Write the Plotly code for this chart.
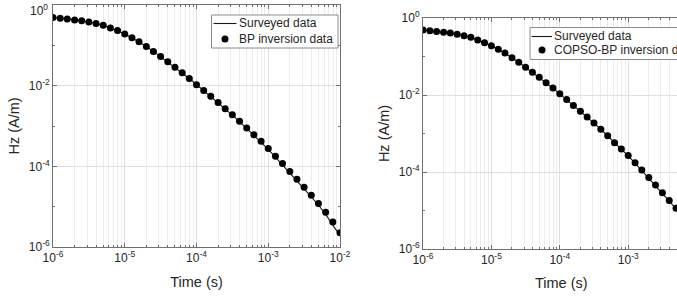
import plotly.graph_objects as go

# ---- data ----
time_s = [1.00e-6, 1.26e-6, 1.58e-6, 2.00e-6, 2.51e-6, 3.16e-6, 3.98e-6, 5.01e-6, 6.31e-6, 7.94e-6,
          1.00e-5, 1.26e-5, 1.58e-5, 2.00e-5, 2.51e-5, 3.16e-5, 3.98e-5, 5.01e-5, 6.31e-5, 7.94e-5,
          1.00e-4, 1.26e-4, 1.58e-4, 2.00e-4, 2.51e-4, 3.16e-4, 3.98e-4, 5.01e-4, 6.31e-4, 7.94e-4,
          1.00e-3, 1.26e-3, 1.58e-3, 2.00e-3, 2.51e-3, 3.16e-3, 3.98e-3, 5.01e-3, 6.31e-3, 7.94e-3,
          1.00e-2]

surveyed_hz = [0.490, 0.468, 0.447, 0.427, 0.407, 0.380, 0.347, 0.316, 0.269, 0.229,
               0.191, 0.155, 0.123, 0.0933, 0.0708, 0.0525, 0.0389, 0.0288, 0.0209, 0.0151,
               0.0107, 0.00759, 0.00537, 0.00380, 0.00269, 0.00186, 0.00129, 0.000871, 0.000575, 0.000398,
               0.000263, 0.000170, 0.000110, 6.92e-5, 4.47e-5, 2.75e-5, 1.74e-5, 1.10e-5, 6.46e-6, 3.63e-6,
               1.91e-6]

bp_hz = [0.490, 0.468, 0.447, 0.427, 0.407, 0.380, 0.347, 0.316, 0.269, 0.234,
         0.191, 0.155, 0.123, 0.0933, 0.0708, 0.0525, 0.0389, 0.0288, 0.0209, 0.0151,
         0.0106, 0.00759, 0.00550, 0.00380, 0.00269, 0.00191, 0.00132, 0.000891, 0.000603, 0.000417,
         0.000275, 0.000178, 0.000117, 7.41e-5, 4.79e-5, 3.02e-5, 1.91e-5, 1.20e-5, 7.24e-6, 4.17e-6,
         2.24e-6]

copso_hz = [0.490, 0.468, 0.447, 0.427, 0.407, 0.380, 0.347, 0.316, 0.269, 0.229,
            0.191, 0.155, 0.123, 0.0933, 0.0708, 0.0525, 0.0389, 0.0288, 0.0209, 0.0151,
            0.0107, 0.00759, 0.00537, 0.00380, 0.00269, 0.00186, 0.00129, 0.000871, 0.000575, 0.000398,
            0.000269, 0.000174, 0.000112, 7.24e-5, 4.57e-5, 2.88e-5, 1.82e-5, 1.15e-5, 6.76e-6, 3.80e-6,
            2.00e-6]

series_names = ["Surveyed data", "BP inversion data", "COPSO-BP inversion data"]
x_title = "Time (s)"
y_title = "Hz (A/m)"

x_tickvals = [1e-6, 1e-5, 1e-4, 1e-3, 1e-2]
x_ticktext = ["10<sup>-6</sup>", "10<sup>-5</sup>", "10<sup>-4</sup>", "10<sup>-3</sup>", "10<sup>-2</sup>"]
y_tickvals = [1e0, 1e-2, 1e-4, 1e-6]
y_ticktext = ["10<sup>0</sup>", "10<sup>-2</sup>", "10<sup>-4</sup>", "10<sup>-6</sup>"]
y_minor_vals = [1e-1, 1e-3, 1e-5]

W, H = 677, 304
FONT = "Liberation Sans, Arial, sans-serif"
TXT = "#262626"
AXC = "#707070"
LINEC = "#1a1a1a"
TICK_FS = 12
TITLE_FS = 14.5
LEG_FS = 12

def px(x):
    return x / W

def py(y):
    return 1 - y / H

fig = go.Figure()

fig.add_trace(go.Scatter(x=time_s, y=surveyed_hz, mode="lines", name=series_names[0],
                         line=dict(color=LINEC, width=1.1), xaxis="x", yaxis="y"))
fig.add_trace(go.Scatter(x=time_s, y=bp_hz, mode="markers", name=series_names[1],
                         marker=dict(color="black", size=7), xaxis="x", yaxis="y"))
fig.add_trace(go.Scatter(x=time_s, y=surveyed_hz, mode="lines", name=series_names[0],
                         line=dict(color=LINEC, width=1.1), xaxis="x2", yaxis="y2"))
fig.add_trace(go.Scatter(x=time_s, y=copso_hz, mode="markers", name=series_names[2],
                         marker=dict(color="black", size=7), xaxis="x2", yaxis="y2"))

def xaxis(domain, rng, anchor, title):
    return dict(type="log", domain=domain, range=rng, anchor=anchor,
                tickvals=x_tickvals, ticktext=x_ticktext,
                ticks="inside", ticklen=4, tickcolor=AXC,
                showline=True, linecolor=AXC, linewidth=1, mirror="ticks",
                showgrid=True, gridcolor="#dfdfdf", gridwidth=1,
                minor=dict(dtick="D1", ticks="inside", ticklen=2, tickcolor=AXC,
                           showgrid=True, gridcolor="#ececec", gridwidth=1),
                tickfont=dict(family=FONT, size=TICK_FS, color=TXT),
                ticklabeloverflow="allow",
                title=dict(text=title, font=dict(family=FONT, size=TITLE_FS, color=TXT), standoff=12),
                automargin=False, zeroline=False)

def yaxis(domain, mirror, anchor, ticktext):
    return dict(type="log", domain=domain, range=[-6, 0], anchor=anchor,
                tickvals=y_tickvals, ticktext=ticktext,
                ticks="inside", ticklen=4, tickcolor=AXC,
                showline=True, linecolor=AXC, linewidth=1, mirror=mirror,
                showgrid=True, gridcolor="#dfdfdf", gridwidth=1,
                minor=dict(tickvals=y_minor_vals, ticks="inside", ticklen=2, tickcolor=AXC,
                           showgrid=False),
                tickfont=dict(family=FONT, size=TICK_FS, color=TXT),
                ticklabeloverflow="allow",
                title=dict(text=y_title, font=dict(family=FONT, size=TITLE_FS, color=TXT), standoff=5),
                automargin=False, zeroline=False)

# left panel: the top label sits at the image edge, so it is nudged down (as in the original)
left_y_ticktext = [""] + y_ticktext[1:]

fig.update_layout(
    width=W, height=H, autosize=False,
    margin=dict(l=0, r=0, t=0, b=0, pad=0, autoexpand=False),
    paper_bgcolor="white", plot_bgcolor="white",
    showlegend=False,
    xaxis=xaxis([px(53), px(340)], [-6, -2], "y", x_title),
    yaxis=yaxis([py(247), py(5)], "ticks", "x", left_y_ticktext),
    xaxis2=xaxis([px(423), 1.0], [-6, -6 + (677 - 423) / 68.4], "y2", ""),
    yaxis2=yaxis([py(249), py(18)], False, "x2", y_ticktext),
)

fig.add_annotation(xref="paper", yref="paper", x=px(49), y=py(1), text=y_ticktext[0],
                   showarrow=False, xanchor="right", yanchor="top", borderpad=0,
                   font=dict(family=FONT, size=TICK_FS, color=TXT))

# right panel x title: the original axes extend past the cropped image edge,
# so its centred title sits right of the visible domain centre
fig.add_annotation(xref="paper", yref="paper", x=px(561), y=py(283), text=x_title,
                   showarrow=False, xanchor="center", yanchor="middle",
                   font=dict(family=FONT, size=TITLE_FS, color=TXT))

# ---- legends (MATLAB-style boxes) ----
def legend_box(x0, y0, x1, y1, line_x0, line_x1, text_x, row1_y, row2_y, mark_x, names):
    fig.add_shape(type="rect", xref="paper", yref="paper", x0=px(x0), x1=px(x1),
                  y0=py(y1), y1=py(y0), line=dict(color="#8c8c8c", width=1),
                  fillcolor="white", layer="above")
    fig.add_shape(type="line", xref="paper", yref="paper", x0=px(line_x0), x1=px(line_x1),
                  y0=py(row1_y), y1=py(row1_y), line=dict(color=LINEC, width=1.1), layer="above")
    fig.add_shape(type="circle", xref="paper", yref="paper", xsizemode="pixel", ysizemode="pixel",
                  xanchor=px(mark_x), yanchor=py(row2_y), x0=-3.5, x1=3.5, y0=-3.5, y1=3.5,
                  fillcolor="black", line=dict(color="black", width=0), layer="above")
    for name, ry in zip(names, [row1_y, row2_y]):
        fig.add_annotation(xref="paper", yref="paper", x=px(text_x), y=py(ry), text=name,
                           showarrow=False, xanchor="left", yanchor="middle", borderpad=0,
                           font=dict(family=FONT, size=LEG_FS, color=TXT))

legend_box(211.5, 15, 338, 48, 213.5, 236.5, 237.5, 23.5, 39, 225, [series_names[0], series_names[1]])
legend_box(530, 27.5, 720, 59.5, 531.5, 552, 553, 36.5, 50, 542, [series_names[0], series_names[2]])

fig.write_html("out.html")
